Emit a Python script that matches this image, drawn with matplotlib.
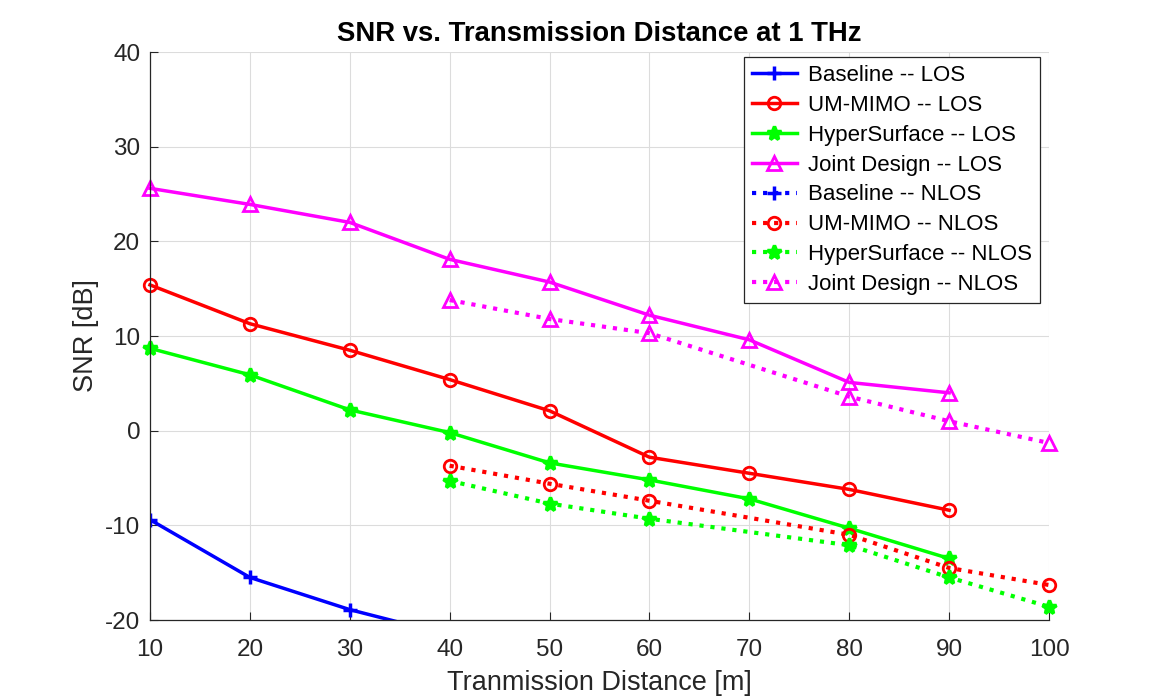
import matplotlib
matplotlib.use("Agg")
import matplotlib.pyplot as plt

plt.rcParams['font.family'] = ['Liberation Sans', 'DejaVu Sans']
plt.rcParams['axes.unicode_minus'] = False

dist_los = [10, 20, 30, 40, 50, 60, 70, 80, 90]
dist_nlos = [40, 50, 60, 80, 90, 100]

baseline_los_x = [10, 20, 30, 40]
baseline_los = [-9.4, -15.5, -18.9, -21.6]
umimo_los = [15.4, 11.3, 8.5, 5.4, 2.1, -2.8, -4.5, -6.2, -8.4]
hyper_los = [8.7, 5.9, 2.2, -0.2, -3.4, -5.2, -7.2, -10.3, -13.5]
joint_los = [25.6, 23.9, 22.0, 18.1, 15.7, 12.2, 9.6, 5.1, 4.0]

baseline_nlos = [-25.0, -27.0, -29.0, -32.0, -35.0, -37.0]
umimo_nlos = [-3.7, -5.6, -7.4, -11.0, -14.5, -16.3]
hyper_nlos = [-5.3, -7.7, -9.3, -12.1, -15.5, -18.6]
joint_nlos = [13.8, 11.8, 10.3, 3.6, 1.0, -1.3]

labels = ['Baseline -- LOS', 'UM-MIMO -- LOS', 'HyperSurface -- LOS', 'Joint Design -- LOS',
          'Baseline -- NLOS', 'UM-MIMO -- NLOS', 'HyperSurface -- NLOS', 'Joint Design -- NLOS']

blue, red, green, mag = '#0000ff', '#ff0000', '#00ff00', '#ff00ff'

fig = plt.figure(figsize=(11.59, 6.98), dpi=100)
ax = fig.add_axes([0.1294, 0.1117, 0.7757, 0.8138])

lw = 2.5
ms = 9
mew = 2.0
ax.plot(baseline_los_x, baseline_los, '-', color=blue, lw=lw, marker='+', ms=ms+1, mew=mew+0.5, label=labels[0])
ax.plot(dist_los, umimo_los, '-', color=red, lw=lw, marker='o', ms=ms, mew=mew, mfc='none', label=labels[1], clip_on=False)
ax.plot(dist_los, hyper_los, '-', color=green, lw=lw, marker='*', ms=ms+1, mew=mew+0.5, label=labels[2], clip_on=False)
ax.plot(dist_los, joint_los, '-', color=mag, lw=lw, marker='^', ms=ms+1, mew=mew, mfc='none', label=labels[3], clip_on=False)
ax.plot(dist_nlos, baseline_nlos, ':', color=blue, lw=lw+0.5, marker='+', ms=ms+1, mew=mew+0.5, label=labels[4])
ax.plot(dist_nlos, umimo_nlos, ':', color=red, lw=lw+0.5, marker='o', ms=ms, mew=mew, mfc='none', label=labels[5], clip_on=False)
ax.plot(dist_nlos, hyper_nlos, ':', color=green, lw=lw+0.5, marker='*', ms=ms+1, mew=mew+0.5, label=labels[6], clip_on=False)
ax.plot(dist_nlos, joint_nlos, ':', color=mag, lw=lw+0.5, marker='^', ms=ms+1, mew=mew, mfc='none', label=labels[7], clip_on=False)

ax.set_xlim(10, 100)
ax.set_ylim(-20, 40)
ax.set_xticks(range(10, 101, 10))
ax.set_yticks(range(-20, 41, 10))
ax.grid(True, color='#dcdcdc', lw=0.8)
ax.set_axisbelow(True)
for s in ['top', 'right']:
    ax.spines[s].set_visible(False)
for s in ['left', 'bottom']:
    ax.spines[s].set_color('#262626')
    ax.spines[s].set_linewidth(0.9)
ax.tick_params(direction='in', length=6, labelsize=17.5, colors='#262626')
ax.tick_params(axis='x', pad=14)
ax.tick_params(axis='y', pad=7)

ax.set_xlabel('Tranmission Distance [m]', fontsize=19.5, color='#262626', labelpad=6)
ax.set_ylabel('SNR [dB]', fontsize=19.5, color='#262626', labelpad=4)
ax.set_title('SNR vs. Transmission Distance at 1 THz', fontsize=19.8, fontweight='bold', pad=8)

leg = ax.legend(loc='upper right', bbox_to_anchor=(0.99, 0.991), borderaxespad=0, fontsize=16,
                frameon=True, fancybox=False, edgecolor='#262626', handlelength=2.05, borderpad=0.35,
                labelspacing=0.4, handletextpad=0.5, framealpha=1)
leg.get_frame().set_linewidth(0.9)

fig.savefig('out.png', dpi=100)
